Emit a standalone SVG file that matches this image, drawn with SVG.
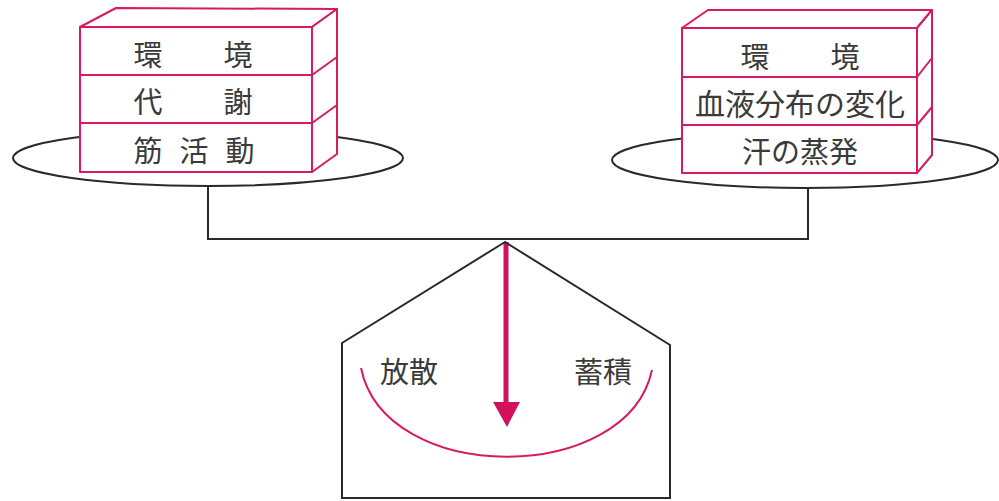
<svg xmlns="http://www.w3.org/2000/svg" width="999" height="501" viewBox="0 0 999 501">
  <style>
    .ink { fill: none; stroke: #2a2a2a; stroke-width: 2; }
    .pan { fill: #ffffff; stroke: #2a2a2a; stroke-width: 2; }
    .box { fill: #ffffff; stroke: #d81a63; stroke-width: 2; stroke-linejoin: round; }
    .edge { fill: none; stroke: #d81a63; stroke-width: 2; }
    .lbl { font-family: "Noto Sans CJK JP", "Noto Sans CJK SC", sans-serif; font-size: 29px; fill: #3a3a3a; text-anchor: middle; dominant-baseline: central; }
  </style>
  <rect width="999" height="501" fill="#ffffff"/>

  <!-- beam and hangers -->
  <g id="connectors">
    <path class="ink" d="M208,186 V239 H808 V188"/>
    <!-- heat reading arrow -->
    <line x1="506" y1="242" x2="506" y2="404" stroke="#d0125c" stroke-width="5"/>
    <polygon points="493,402 520,402 507,427" fill="#d0125c"/>
  </g>

  <!-- fulcrum housing -->
  <g id="gauge">
    <polygon class="ink" points="505,242 342,343 342,498 670,498 670,345"/>
    <path d="M361,368 C385,486 627,486 652,370" fill="none" stroke="#d81a63" stroke-width="2"/>
    <text class="lbl" x="409" y="370">放散</text>
    <text class="lbl" x="603" y="370">蓄積</text>
  </g>

  <!-- left pan: heat production -->
  <g id="left-pan">
    <ellipse class="pan" cx="208" cy="158" rx="195" ry="28"/>
    <polygon class="box" points="80,27 116,8 337,9 312,27"/>
    <polygon class="box" points="312,27 337,9 337,154 312,172"/>
    <rect class="box" x="80" y="27" width="232" height="145"/>
    <line class="edge" x1="80" y1="75" x2="312" y2="75"/>
    <line class="edge" x1="80" y1="123" x2="312" y2="123"/>
    <line class="edge" x1="312" y1="75" x2="337" y2="57"/>
    <line class="edge" x1="312" y1="123" x2="337" y2="105"/>
    <text class="lbl" x="148" y="53">環</text>
    <text class="lbl" x="238" y="53">境</text>
    <text class="lbl" x="148" y="100">代</text>
    <text class="lbl" x="238" y="100">謝</text>
    <text class="lbl" x="148" y="149">筋</text>
    <text class="lbl" x="194" y="149">活</text>
    <text class="lbl" x="240" y="149">動</text>
  </g>

  <!-- right pan: heat loss -->
  <g id="right-pan">
    <ellipse class="pan" cx="805" cy="160" rx="193" ry="28"/>
    <polygon class="box" points="682,28 708,10 932,10 917,28"/>
    <polygon class="box" points="917,28 932,10 932,155 917,173"/>
    <rect class="box" x="682" y="28" width="235" height="145"/>
    <line class="edge" x1="682" y1="77" x2="917" y2="77"/>
    <line class="edge" x1="682" y1="125" x2="917" y2="125"/>
    <line class="edge" x1="917" y1="77" x2="932" y2="58"/>
    <line class="edge" x1="917" y1="125" x2="932" y2="107"/>
    <text class="lbl" x="755" y="55">環</text>
    <text class="lbl" x="845" y="55">境</text>
    <text class="lbl" x="800" y="102" style="font-size:30px">血液分布の変化</text>
    <text class="lbl" x="800" y="150">汗の蒸発</text>
  </g>
</svg>
